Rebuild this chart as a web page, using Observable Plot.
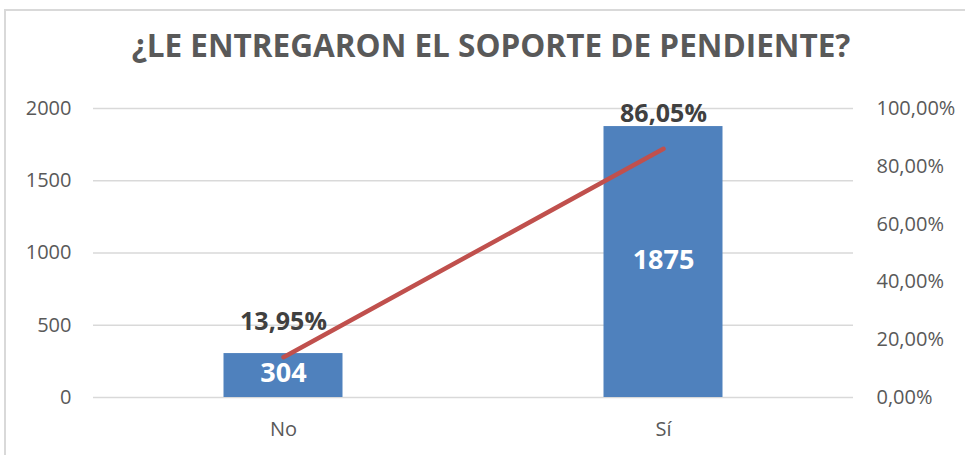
<!DOCTYPE html>
<html>
<head>
<meta charset="utf-8">
<script src="https://cdn.jsdelivr.net/npm/d3@7"></script>
<script src="https://cdn.jsdelivr.net/npm/@observablehq/plot@0.6"></script>
<style>
  html, body { margin: 0; padding: 0; background: #fff; }
  #frame { position: relative; width: 965px; height: 455px; overflow: hidden; background: #fff; font-family: "Open Sans", sans-serif; }
  #bl { position: absolute; left: 4px; top: 9px; width: 2px; height: 460px; background: #D9D9D9; }
  #bt { position: absolute; left: 4px; top: 9px; width: 970px; height: 2px; background: #D9D9D9; }
  #title { position: absolute; left: 0; top: 24px; width: 982px; text-align: center; font-weight: 700; font-size: 31.5px; color: #595959; line-height: 42px; white-space: nowrap; }
  #chart { position: absolute; left: 0; top: 80px; }
</style>
</head>
<body>
<div id="frame">
  <div id="bl"></div>
  <div id="bt"></div>
  <div id="title">¿LE ENTREGARON EL SOPORTE DE PENDIENTE?</div>
  <div id="chart"></div>
</div>
<script>
const categories = ["No", "Sí"];
const counts = [304, 1875];
const percents = [13.95, 86.05];
const leftTicks = [0, 500, 1000, 1500, 2000];
const rightTicks = [0, 20, 40, 60, 80, 100];
const yMax = 2000;

const data = categories.map((c, i) => ({cat: c, count: counts[i], pct: percents[i]}));
const pctToY = p => p / 100 * yMax;
const fmtPct = p => p.toFixed(2).replace(".", ",") + "%";

const chart = Plot.plot({
  width: 965,
  height: 375,
  marginTop: 28,
  marginBottom: 58,
  marginLeft: 93,
  marginRight: 112,
  style: {fontFamily: "Open Sans", fontSize: "20px", color: "#595959", background: "transparent", overflow: "visible"},
  x: {domain: categories, padding: 0, label: null},
  y: {domain: [0, yMax], label: null},
  marks: [
    Plot.gridY(leftTicks, {stroke: "#D9D9D9", strokeOpacity: 1, strokeWidth: 1.5}),
    Plot.barY(data, {x: "cat", y: "count", fill: "#4F81BD", insetLeft: 130.5, insetRight: 130.5}),
    Plot.lineY(data, {x: "cat", y: d => pctToY(d.pct), stroke: "#C0504D", strokeWidth: 4.5, strokeLinecap: "round"}),
    Plot.text(data, {x: "cat", y: d => pctToY(d.pct), text: d => fmtPct(d.pct), dy: -35, fill: "#404040", fontWeight: 700, fontSize: 25}),
    Plot.text(data, {x: "cat", y: d => d.count / 2, text: d => String(d.count), fill: "#ffffff", fontWeight: 700, fontSize: 27, dy: -2}),
    Plot.axisY(leftTicks, {anchor: "left", tickSize: 0, tickPadding: 22, label: null, tickFormat: t => String(t), fontSize: 20, fill: "#595959"}),
    Plot.axisY(rightTicks.map(pctToY), {anchor: "right", tickSize: 0, tickPadding: 23, label: null, tickFormat: t => fmtPct(t / yMax * 100), fontSize: 20, fill: "#595959"}),
    Plot.axisX({anchor: "bottom", tickSize: 0, tickPadding: 24, label: null, fontSize: 20, fill: "#595959"})
  ]
});
document.getElementById("chart").appendChild(chart);
</script>
</body>
</html>
